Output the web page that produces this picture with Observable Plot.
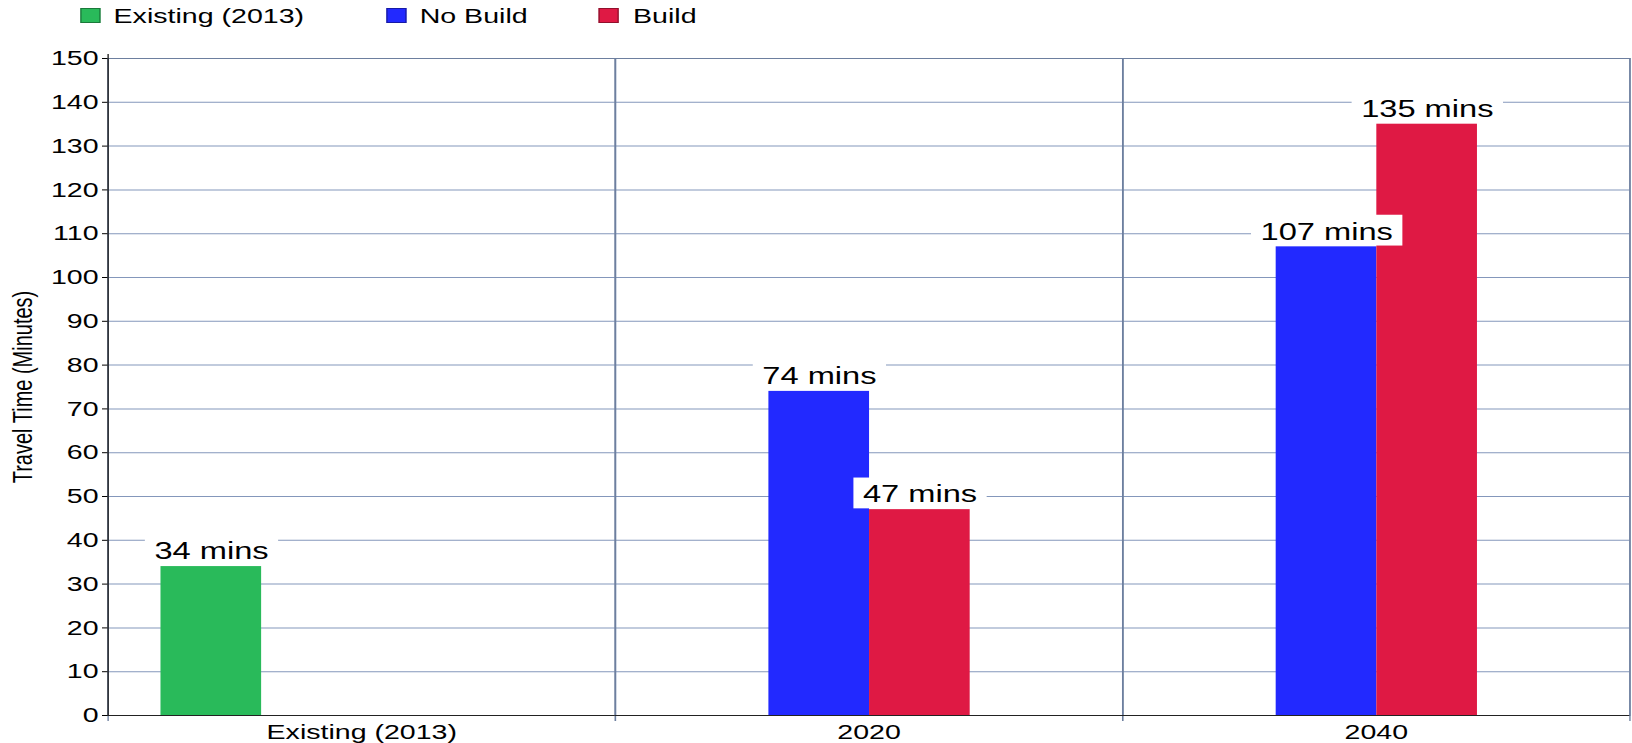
<!DOCTYPE html>
<html><head><meta charset="utf-8">
<script src="https://cdn.jsdelivr.net/npm/d3@7"></script>
<script src="https://cdn.jsdelivr.net/npm/@observablehq/plot@0.6"></script>
<style>
html,body{margin:0;padding:0;background:#fff;overflow:hidden}
#wrap{width:1200px;transform:scaleX(1.36);transform-origin:0 0;font-family:"Liberation Sans",Arial,sans-serif;color:#000}
#legend{height:35px;display:flex;align-items:flex-start;padding-left:58.5px;box-sizing:border-box}
.item{display:flex;align-items:center;font-size:21px;line-height:23px;margin-top:4px;margin-right:60px}
.item:nth-child(2){margin-right:52.5px}
.sw{width:15px;height:15px;margin-right:10px;box-sizing:border-box;border:1px solid rgba(0,0,0,.35)}
</style>
</head><body>
<div id="wrap"><div id="legend"></div><div id="chart"></div></div>
<script>
const categories = ["Existing (2013)", "2020", "2040"];
const series = ["Existing (2013)", "No Build", "Build"];
const slots = ["Existing (2013)", "No Build", "Build", "(empty)"];
const colors = ["#29BA5A", "#2229FF", "#DF1944"];
const existingValues = [34, null, null];
const noBuildValues = [null, 74, 107];
const buildValues = [null, 47, 135];
const yTicks = [0,10,20,30,40,50,60,70,80,90,100,110,120,130,140,150];

const seriesValues = [existingValues, noBuildValues, buildValues];
const data = [];
series.forEach((s, si) => categories.forEach((c, ci) => {
  const v = seriesValues[si][ci];
  if (v != null) data.push({category: c, series: s, value: v});
}));

// legend
const legend = document.getElementById("legend");
series.forEach((s, i) => {
  const it = document.createElement("div"); it.className = "item";
  const sw = document.createElement("div"); sw.className = "sw"; sw.style.background = colors[i];
  const tx = document.createElement("span"); tx.textContent = s;
  it.appendChild(sw); it.appendChild(tx); legend.appendChild(it);
});

const gridColor = "#8497bb";
const dividerColor = "#6d7f9f";

const chart = Plot.plot({
  width: 1200, height: 708,
  marginTop: 23, marginBottom: 28, marginLeft: 79, marginRight: 2,
  style: {fontFamily: '"Liberation Sans", Arial, sans-serif', fontSize: "21px", color: "#000", background: "white", overflow: "visible"},
  fx: {domain: categories, padding: 0, label: null},
  x: {domain: slots, paddingInner: 0, paddingOuter: 0.487, axis: null},
  y: {domain: [0, 150], label: "Travel Time (Minutes)"},
  color: {domain: series, range: colors},
  marks: [
    Plot.gridY(yTicks, {stroke: gridColor, strokeOpacity: 1}),
    Plot.frame({stroke: dividerColor, strokeOpacity: 1}),
    Plot.frame({anchor: "left", stroke: dividerColor, insetBottom: -5}),
    Plot.frame({anchor: "right", stroke: dividerColor, insetBottom: -5}),
    Plot.barY(data, {fx: "category", x: "series", y: "value", fill: "series"}),
    Plot.ruleY([0], {stroke: "#222"}),
    Plot.frame({anchor: "left", stroke: "#222", facetAnchor: "left", insetTop: -4}),
    Plot.axisY(yTicks, {tickSize: 4, tickPadding: 3, fontSize: 21, label: null}),
    Plot.axisY({ticks: [], tickSize: 0, label: "Travel Time (Minutes)", labelAnchor: "center", labelArrow: "none", labelOffset: 70, fontSize: 20}),
    Plot.axisFx({anchor: "bottom", tickSize: 0, tickPadding: 9, fontSize: 21, label: null}),
    Plot.text(data, {fx: "category", x: "series", y: "value", text: d => `${d.value} mins`, dy: -15, fontSize: 24, lineAnchor: "middle", fill: "#000", className: "vlabel"})
  ]
});
document.getElementById("chart").appendChild(chart);

// white label boxes behind value labels
chart.querySelectorAll(".vlabel text").forEach(t => {
  const b = t.getBBox();
  const r = document.createElementNS("http://www.w3.org/2000/svg", "rect");
  r.setAttribute("x", b.x - 7);
  r.setAttribute("y", b.y - 3);
  r.setAttribute("width", b.width + 14);
  r.setAttribute("height", b.height + 4);
  r.setAttribute("fill", "white");
  if (t.getAttribute("transform")) r.setAttribute("transform", t.getAttribute("transform"));
  t.parentNode.insertBefore(r, t);
});
</script>
</body></html>
